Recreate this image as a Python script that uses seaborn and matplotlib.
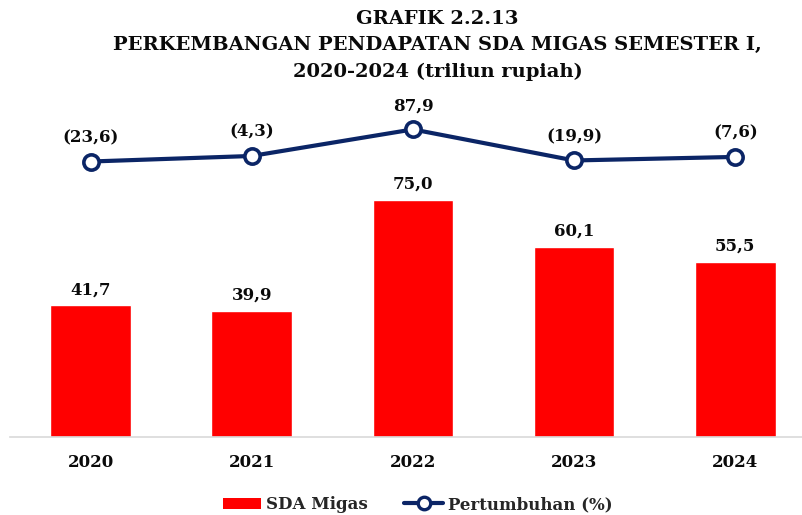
import numpy as np
import pandas as pd
import matplotlib
matplotlib.use('Agg')
import matplotlib.pyplot as plt
import seaborn as sns
from matplotlib.patches import Patch
from matplotlib.lines import Line2D

years = ['2020', '2021', '2022', '2023', '2024']
sda_migas = [41.7, 39.9, 75.0, 60.1, 55.5]
pertumbuhan = [-23.6, -4.3, 87.9, -19.9, -7.6]

RED = '#FF0000'
NAVY = '#0B2566'

sns.set_theme(style='white')
plt.rcParams['font.family'] = ['DejaVu Serif']
plt.rcParams['font.weight'] = 'bold'


def fmt(v):
    s = f'{abs(v):.1f}'.replace('.', ',')
    return f'({s})' if v < 0 else s


df = pd.DataFrame({'tahun': years, 'sda': sda_migas, 'growth': pertumbuhan})

fig = plt.figure(figsize=(8.03, 5.15), dpi=100)
ax = fig.add_axes([10 / 803, 1 - 437 / 515, 1 - 10 / 803, 337 / 515])

sns.barplot(data=df, x='tahun', y='sda', color=RED, width=0.5, saturation=1,
            ax=ax)
ax.set_xlim(-0.5, 4.42)
ax.set_ylim(0, 106.6)
for i, v in enumerate(sda_migas):
    ax.annotate(fmt(v), (i, v), xytext=(0, 5), textcoords='offset points',
                ha='center', va='bottom', fontsize=12, fontweight='bold',
                color='#0A0A0A')

ax2 = ax.twinx()
sns.lineplot(x=np.arange(len(years)), y=pertumbuhan, ax=ax2, color=NAVY,
             linewidth=3, marker='o', markersize=11, markerfacecolor='white',
             markeredgecolor=NAVY, markeredgewidth=2.6)
ax2.set_ylim(-980, 190)
for i, v in enumerate(pertumbuhan):
    ax2.annotate(fmt(v), (i, v), xytext=(0, 11), textcoords='offset points',
                 ha='center', va='bottom', fontsize=12, fontweight='bold',
                 color='#0A0A0A')

for a in (ax, ax2):
    a.set_ylabel('')
    a.set_yticks([])
    for side in ['top', 'right', 'left', 'bottom']:
        a.spines[side].set_visible(False)
ax.spines['bottom'].set_visible(True)
ax.spines['bottom'].set_color('#D9D9D9')
ax.spines['bottom'].set_linewidth(1.2)
ax.set_xlabel('')
ax.tick_params(axis='x', length=0, pad=12, labelsize=12)
for t in ax.get_xticklabels():
    t.set_fontweight('bold')
    t.set_color('#0A0A0A')

fig.text(0.545, 0.98, 'GRAFIK 2.2.13\nPERKEMBANGAN PENDAPATAN SDA MIGAS SEMESTER I,\n2020-2024 (triliun rupiah)',
         ha='center', va='top', fontsize=14, fontweight='bold',
         linespacing=1.58, color='#0A0A0A')

handles = [Patch(facecolor=RED, edgecolor='none', label='SDA Migas'),
           Line2D([0], [0], color=NAVY, linewidth=3, marker='o', markersize=9,
                  markerfacecolor='white', markeredgecolor=NAVY,
                  markeredgewidth=2.4, label='Pertumbuhan (%)')]
fig.legend(handles=handles, loc='center', bbox_to_anchor=(0.52, 0.02),
           ncol=2, frameon=False, prop={'size': 12, 'weight': 'bold'},
           handlelength=2.3, columnspacing=2.2, handletextpad=0.3)

fig.savefig('out.png', dpi=100)
